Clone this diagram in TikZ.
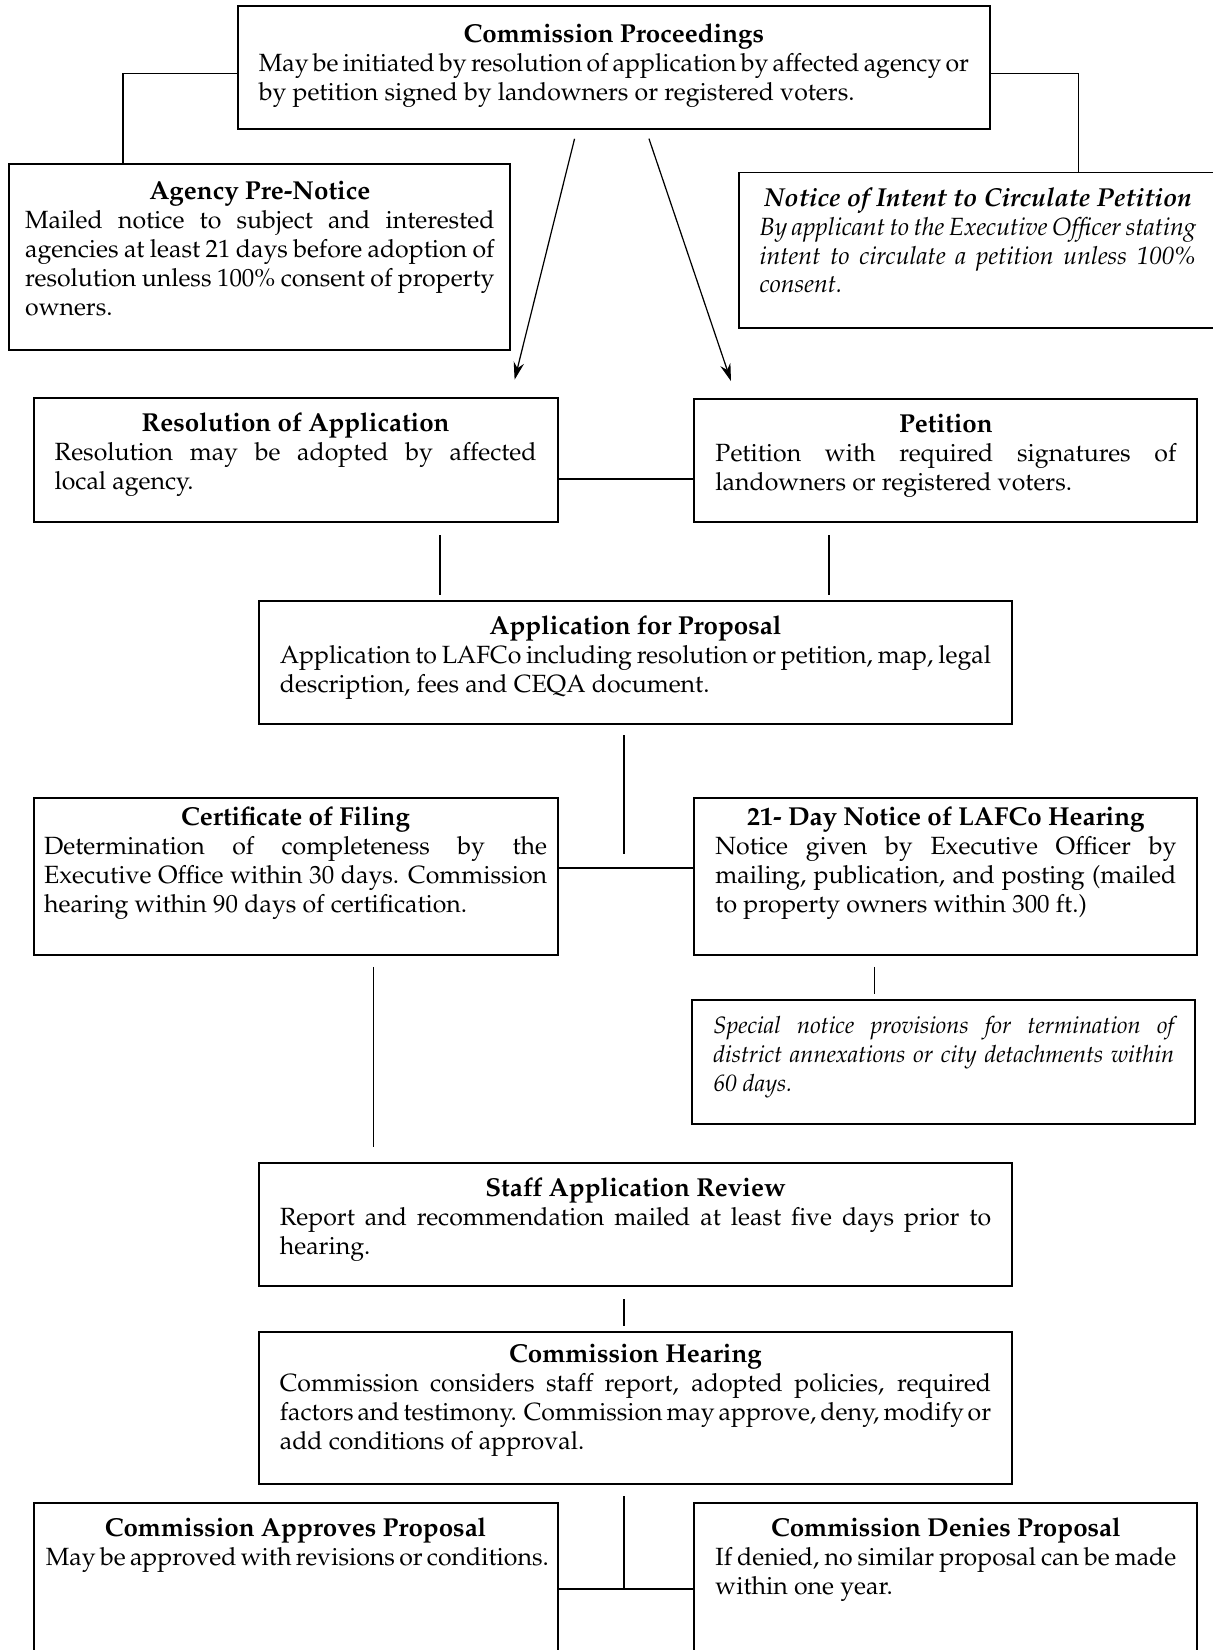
\documentclass[tikz,border=0pt]{standalone}
\usepackage[T1]{fontenc}
\usepackage{mathpazo}
\usetikzlibrary{arrows.meta}

\hyphenpenalty=10000
\exhyphenpenalty=10000
\newcommand{\cardfont}{\fontsize{14.2}{16.5}\selectfont\spaceskip=0.25em plus 0.25em minus 0.1em\relax}
\newcommand{\cardtitle}[1]{{\centering\fontsize{14.8}{16.5}\selectfont\bfseries #1\par}}

\begin{document}
\begin{tikzpicture}[
        x=0.6pt, y=-0.6pt,
        font=\cardfont,
        card/.style={draw, line width=1.1pt, anchor=north west, align=justify,
            inner xsep=12pt, inner ysep=4pt, text height=15.2pt},
        link/.style={line width=0.9pt},
        flow/.style={-{Stealth[length=10pt, width=6pt]}, line width=0.7pt}
    ]
    \useasboundingbox (0,0) rectangle (1152,1568);

    % Inicio
    \node[card, text width=405pt, text height=16.8pt, text depth=45.4pt] (cp) at (225,5)
        {\cardtitle{Commission Proceedings}May be initiated by resolution of application by affected agency or\linebreak by petition signed by landowners or registered voters.};

    \node[card, inner xsep=9pt, text width=267.6pt, text height=16.4pt, text depth=81.8pt] (apn) at (8,155)
        {\cardtitle{Agency Pre-Notice}Mailed notice to subject and interested\linebreak agencies at least 21 days before adoption of\linebreak resolution unless 100\% consent of property\linebreak owners.};

    \node[card, text width=249pt, text depth=65.6pt] (noi) at (701,163)
        {\itshape\cardtitle{Notice of Intent to Circulate Petition}By applicant to the Executive Officer stating\linebreak intent to circulate a petition unless 100\%\linebreak consent.};

    \draw[link] (cp.west |- 0,70) -| (117,0 |- apn.north);
    \draw[link] (cp.east |- 0,70) -| (1025,0 |- noi.north);

    % Resolucion y peticion
    \node[card, text width=274.8pt, text depth=47.6pt] (res) at (31,377)
        {\cardtitle{Resolution of Application}\rightskip=23.4pt Resolution may be adopted by affected\linebreak local agency.};

    \node[card, text width=262.8pt, text depth=47pt] (pet) at (659,378)
        {\cardtitle{Petition}Petition with required signatures of\linebreak landowners or registered voters.};

    \draw[flow, shorten <=5pt, shorten >=10pt] (cp.south -| 548,0) -- (res.north -| 485,0);
    \draw[flow, shorten <=5pt, shorten >=10pt] (cp.south -| 614,0) -- (pet.north -| 700,0);
    \draw[link] (res.east |- 0,455) -- (pet.west |- 0,455);

    % Solicitud
    \node[card, text width=405.6pt, text depth=47pt] (app) at (245,570)
        {\cardtitle{Application for Proposal}Application to LAFCo including resolution or petition, map, legal\linebreak description, fees and CEQA document.};

    \draw[link, shorten <=7.2pt, shorten >=3pt] (res.south -| 418,0) -- (app.north -| 418,0);
    \draw[link, shorten <=7.2pt, shorten >=3pt] (pet.south -| 788,0) -- (app.north -| 788,0);

    % Certificado y aviso
    \node[card, inner xsep=6pt, text width=286.8pt, text height=12.2pt, text depth=69.8pt] (cof) at (31,757)
        {\cardtitle{Certificate of Filing}Determination of completeness by the\linebreak Executive Office within 30 days. Commission\linebreak hearing within 90 days of certification.};

    \node[card, text width=262.8pt, text height=12.2pt, text depth=69.8pt] (dn) at (659,757)
        {\cardtitle{21- Day Notice of LAFCo Hearing}Notice given by Executive Officer by\linebreak mailing, publication, and posting (mailed\linebreak to property owners within 300 ft.)};

    \node[card, text width=262.8pt, text depth=47.6pt, font=\fontsize{13.5}{16.5}\selectfont\itshape] (spn) at (657,949)
        {Special notice provisions for termination of\linebreak district annexations or city detachments within\linebreak 60 days.};

    \coordinate (split) at (593,825);
    \draw[link, shorten <=6pt, shorten >=7.8pt] (app.south -| split) -- (split);
    \draw[link] (cof.east |- split) -- (dn.west |- split);
    \draw[link, shorten <=6pt, shorten >=2.4pt] (dn.south -| 831,0) -- (spn.north -| 831,0);

    % Revision y audiencia
    \node[card, text width=405.6pt, text depth=47pt] (sar) at (245,1104)
        {\cardtitle{Staff Application Review}Report and recommendation mailed at least five days prior to\linebreak hearing.};

    \node[card, text width=405.6pt, text height=13.4pt, text depth=65pt] (ch) at (245,1265)
        {\cardtitle{Commission Hearing}Commission considers staff report, adopted policies, required\linebreak factors and testimony. Commission may approve, deny, modify or\linebreak add conditions of approval.};

    \draw[link, shorten <=6pt, shorten >=8.4pt] (cof.south -| 355,0) -- (sar.north -| 355,0);
    \draw[link, shorten <=7.2pt, shorten >=3pt] (sar.south -| split) -- (ch.north -| split);

    % Decision
    \node[card, inner xsep=5pt, text width=288.8pt, text depth=80.6pt] (cap) at (31,1427)
        {\cardtitle{Commission Approves Proposal}\hspace*{2pt}May be approved with revisions or conditions.};

    \node[card, text width=262.8pt, text depth=80.6pt] (cdp) at (659,1427)
        {\cardtitle{Commission Denies Proposal}If denied, no similar proposal can be made\linebreak within one year.};

    \coordinate (split2) at (593,1510);
    \draw[link, shorten <=6.6pt] (ch.south -| split2) -- (split2);
    \draw[link] (cap.east |- split2) -- (cdp.west |- split2);

\end{tikzpicture}
\end{document}
